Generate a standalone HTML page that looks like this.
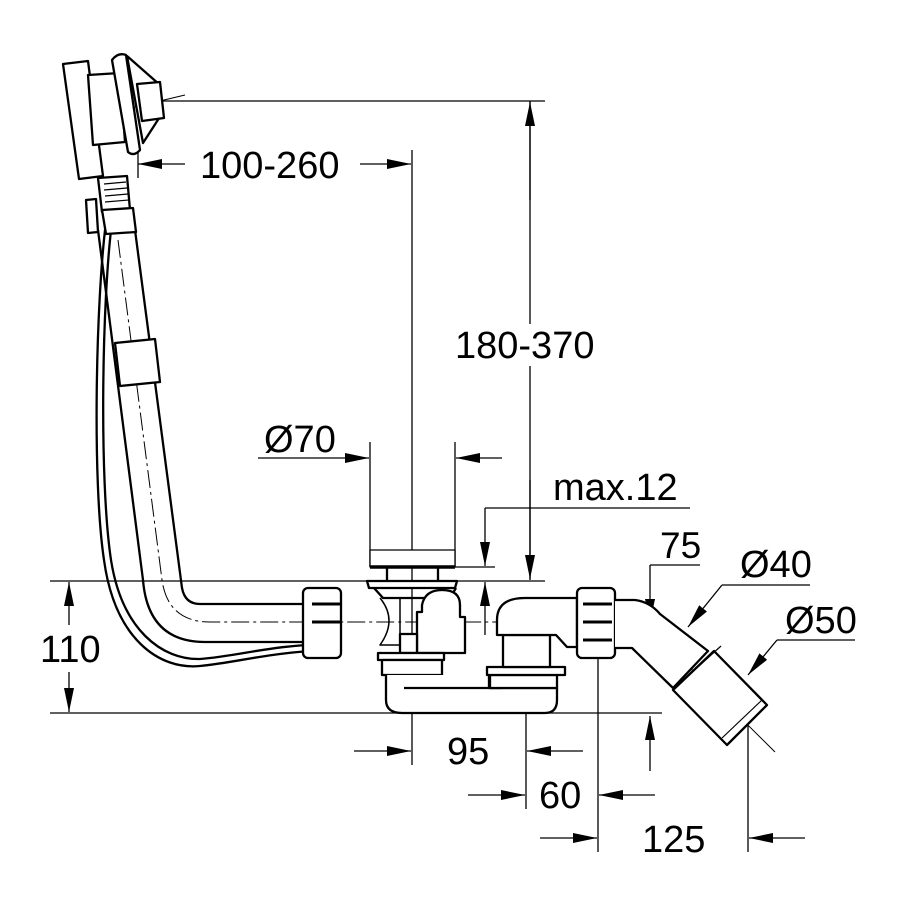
<!DOCTYPE html>
<html><head><meta charset="utf-8"><style>html,body{margin:0;padding:0;background:#fff}svg{display:block}</style></head>
<body>
<svg width="900" height="900" viewBox="0 0 900 900" xmlns="http://www.w3.org/2000/svg">
<defs>
<marker id="a" viewBox="0 0 24 10" refX="24" refY="5" markerWidth="24" markerHeight="10" markerUnits="userSpaceOnUse" orient="auto"><path d="M0,0 L24,5 L0,10 z" fill="#000"/></marker>
</defs>
<rect width="900" height="900" fill="#fff"/>
<g font-family="Liberation Sans, sans-serif" font-size="38" fill="#000">
<text x="200" y="178">100-260</text>
<text x="455" y="358">180-370</text>
<text x="264" y="452">Ø70</text>
<text x="553" y="500" font-size="38">max.12</text>
<text x="660" y="558" font-size="37">75</text>
<text x="740" y="577" font-size="38">Ø40</text>
<text x="785" y="633" font-size="38">Ø50</text>
<text x="40" y="662">110</text>
<text x="447" y="764">95</text>
<text x="539" y="808">60</text>
<text x="642" y="852">125</text>
</g>
<g stroke="#000" stroke-width="1.3" fill="none">
<line x1="160" y1="101" x2="545" y2="101"/>
<line x1="530" y1="101" x2="530" y2="324"/>
<line x1="530" y1="366" x2="530" y2="580"/>
<line x1="530" y1="200" x2="530" y2="102" marker-end="url(#a)"/>
<line x1="530" y1="480" x2="530" y2="579" marker-end="url(#a)"/>
<line x1="412" y1="150" x2="412" y2="765"/>
<line x1="185" y1="164" x2="138" y2="164" marker-end="url(#a)"/>
<line x1="138" y1="152" x2="138" y2="178"/>
<line x1="360" y1="164" x2="411" y2="164" marker-end="url(#a)"/>
<line x1="258" y1="458" x2="369" y2="458" marker-end="url(#a)"/>
<line x1="370" y1="442" x2="370" y2="567"/>
<line x1="455" y1="442" x2="455" y2="567"/>
<line x1="502" y1="458" x2="456" y2="458" marker-end="url(#a)"/>
<line x1="485" y1="508" x2="690" y2="508"/>
<line x1="485" y1="508" x2="485" y2="566" marker-end="url(#a)"/>
<line x1="455" y1="567" x2="495" y2="567"/>
<line x1="485" y1="635" x2="485" y2="582" marker-end="url(#a)"/>
<line x1="50" y1="581" x2="545" y2="581"/>
<line x1="50" y1="713" x2="662" y2="713"/>
<line x1="69" y1="625" x2="69" y2="582" marker-end="url(#a)"/>
<line x1="69" y1="672" x2="69" y2="712" marker-end="url(#a)"/>
<line x1="650" y1="565" x2="700" y2="565"/>
<line x1="650" y1="565" x2="650" y2="623" marker-end="url(#a)"/>
<line x1="810" y1="585" x2="722" y2="585"/>
<line x1="722" y1="585" x2="688" y2="627" marker-end="url(#a)"/>
<line x1="855" y1="640" x2="777" y2="640"/>
<line x1="777" y1="640" x2="748" y2="675" marker-end="url(#a)"/>
<line x1="526" y1="620" x2="526" y2="809"/>
<line x1="598" y1="640" x2="598" y2="852"/>
<line x1="748" y1="720" x2="748" y2="852"/>
<line x1="354" y1="751" x2="411" y2="751" marker-end="url(#a)"/>
<line x1="583" y1="751" x2="527" y2="751" marker-end="url(#a)"/>
<line x1="468" y1="795" x2="525" y2="795" marker-end="url(#a)"/>
<line x1="655" y1="795" x2="599" y2="795" marker-end="url(#a)"/>
<line x1="540" y1="838" x2="597" y2="838" marker-end="url(#a)"/>
<line x1="805" y1="838" x2="749" y2="838" marker-end="url(#a)"/>
<line x1="650" y1="771" x2="650" y2="716" marker-end="url(#a)"/>
<line x1="80" y1="120" x2="185" y2="95" stroke-width="1"/>
<path d="M118,240 L162,580 Q168,622 210,622 L580,622" stroke-width="1" stroke-dasharray="18,4,3,4"/>
<path d="M405,690 Q405,700 415,700 L515,700 Q525,700 525,690 L525,640 Q525,622 540,622" stroke-width="1" stroke-dasharray="18,4,3,4"/>
<path d="M595,622 L630,622 Q645,622 655,633 L775,752" stroke-width="1"/>
</g>
<g stroke="#000" stroke-width="2.3" fill="#fff" stroke-linejoin="round">
<path d="M98,230 L143,580 Q148,642 205,642 L305,642" fill="none"/>
<path d="M135,230 L182,588 Q185,604 200,604 L305,604" fill="none"/>
<path d="M115,343 L155,339 L160,382 L120,386 z"/>
<path d="M106,222 C96,300 92,480 104,560 C115,640 160,670 200,666 C240,662 270,652 330,650" fill="none"/>
<path d="M112,222 C102,300 99,480 111,560 C122,630 162,660 200,659 C240,656 270,645 330,644" fill="none"/>
<path d="M63,64 L88,61 L103,176 L79,179 z"/>
<path d="M88,75 L120,73 L125,142 L93,145 z"/>
<path d="M112,60 Q118,52 126,55 L140,150 Q134,157 128,152 z"/>
<path d="M127,56 L160,85 L163,112 L143,143 z"/>
<path d="M137,84 L160,82 L164,118 L142,121 z"/>
<path d="M98,178 L127,176 L130,210 L102,212 z"/>
<path d="M104,184 L126,182 M104,190 L127,188 M105,196 L128,194 M105,202 L129,200" fill="none" stroke-width="1.2"/>
<path d="M102,210 L133,208 L136,232 L106,234 z"/>
<path d="M86,200 L96,199 L98,232 L88,233 z"/>
<rect x="303" y="588" width="38" height="70" rx="5"/>
<path d="M312,604 L340,604 M312,622 L340,622" stroke-width="3" fill="none"/>
<rect x="370" y="550" width="85" height="17" fill="#fff" stroke-width="1.3"/>
<line x1="370" y1="567" x2="455" y2="567" stroke-width="3.5"/>
<path d="M387,567 L387,580 M438,567 L438,580" fill="none"/>
<path d="M367,581 L457,581 L455,588 L369,588 z"/>
<path d="M374,588 L383,598 L450,598 L456,588" fill="none"/>
<path d="M380,598 Q398,620 380,645 L400,645 L400,598" fill="none" stroke-width="1.5"/>
<path d="M417,653 L417,612 L422,612 L422,605 Q425,590 442,590 Q460,590 460,605 L460,617 L465,617 L465,653 z"/>
<rect x="400" y="634" width="17" height="19"/>
<path d="M378,653 L444,653 L444,660 L378,660 z"/>
<path d="M382,660 L442,660 L442,675 L382,675 z"/>
<path d="M386,675 L386,700 Q386,713 402,713 L545,713 Q557,713 557,700 L557,688 L489,688 L489,675" fill="#fff"/>
<line x1="404" y1="688" x2="502" y2="688"/>
<path d="M490,675 L557,675 L557,688 L490,688 z"/>
<path d="M487,667 L565,667 L565,675 L487,675 z"/>
<path d="M503,635 L550,635 L550,667 L503,667 z"/>
<path d="M497,635 L497,620 Q497,598 525,598 L577,598 L577,647 L567,647 L556,635 z"/>
<rect x="577" y="588" width="38" height="70" rx="5"/>
<path d="M583,604 L612,604 M583,622 L612,622 M583,640 L612,640" stroke-width="3" fill="none"/>
<path d="M615,600 L635,600 Q650,602 660,614 L708,651 L673,688 L632,648 L615,648" fill="#fff"/>
<path d="M673,690 L714,651 L767,705 L727,745 z"/>
<line x1="680" y1="683" x2="721" y2="646" stroke-width="1.2"/>
<line x1="722" y1="738" x2="762" y2="700" stroke-width="1.2"/>
</g>
</svg>
</body></html>
